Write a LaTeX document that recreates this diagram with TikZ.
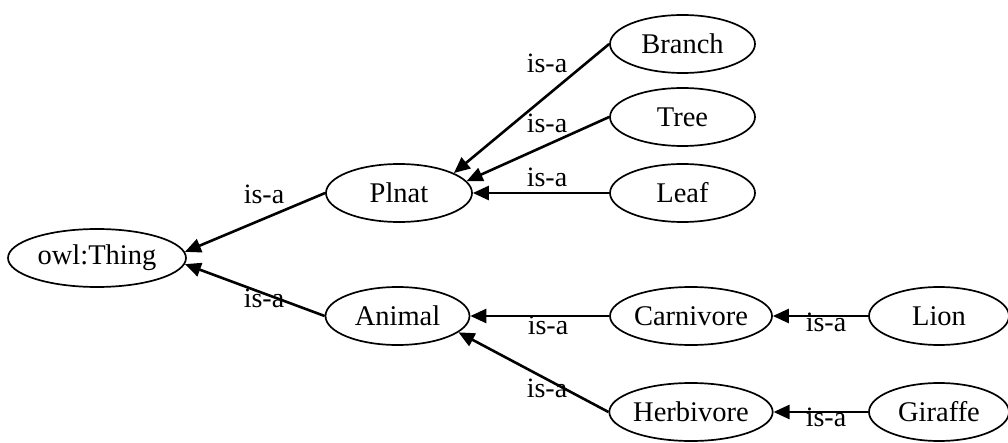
\documentclass[tikz,border=0pt]{standalone}
\usepackage{fontspec}
\setmainfont{Liberation Serif}
\usetikzlibrary{shapes.geometric,arrows.meta}
\begin{document}
\begin{tikzpicture}[x=1pt,y=-1pt,
  concept/.style={ellipse,draw,line width=1.7pt,minimum width=145pt,minimum height=58pt,
    inner sep=0pt,font=\fontsize{28.5}{31}\selectfont},
  isa/.style={line width=2.6pt,-{Triangle[length=16pt,width=14pt]}},
  rel/.style={font=\fontsize{28}{31}\selectfont,inner sep=0pt}]
\useasboundingbox (0,0) rectangle (1008,443);

% class nodes
\node[concept,minimum width=178pt] (thing) at (97,258) {owl:Thing};
\node[concept,minimum width=146pt] (plnat) at (399,193) {Plnat};
\node[concept,minimum width=144pt] (animal) at (397.5,316) {Animal};
\node[concept] (branch) at (682.5,44) {Branch};
\node[concept] (tree) at (682.5,117) {Tree};
\node[concept] (leaf) at (682.5,193) {Leaf};
\node[concept,minimum width=162pt] (carn) at (691,316) {Carnivore};
\node[concept,minimum width=162pt] (herb) at (691,412) {Herbivore};
\node[concept,minimum width=140pt] (lion) at (939,316) {Lion};
\node[concept,minimum width=140pt] (giraffe) at (939,412) {Giraffe};

% subclass edges
\draw[isa] (plnat.west) -- (thing.4);
\draw[isa] (animal.west) -- (thing.-4);
\draw[isa] (branch.west) -- (plnat.20);
\draw[isa] (tree.west) -- (plnat.10);
\draw[isa] (leaf.west) -- (plnat.east);
\draw[isa] (carn.west) -- (animal.east);
\draw[isa] (herb.west) -- (animal.-15);
\draw[isa] (lion.west) -- (carn.east);
\draw[isa] (giraffe.west) -- (herb.east);

% edge labels
\node[rel] (l1) at (264,194) {is-a};
\node[rel] (l2) at (264,298) {is-a};
\node[rel] (l3) at (547,63) {is-a};
\node[rel] (l4) at (547,123) {is-a};
\node[rel] (l5) at (547,177) {is-a};
\node[rel] (l6) at (548,325) {is-a};
\node[rel] (l7) at (547,388) {is-a};
\node[rel] (l8) at (826,322) {is-a};
\node[rel] (l9) at (826,417) {is-a};
\end{tikzpicture}
\end{document}
